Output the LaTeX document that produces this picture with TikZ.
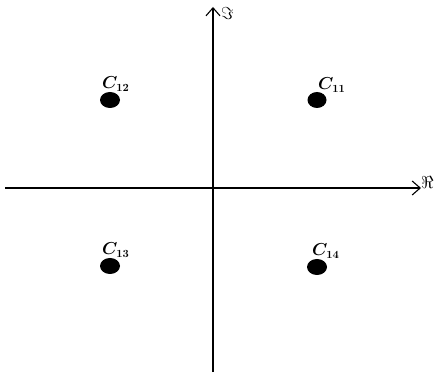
\documentclass[tikz,border=0pt]{standalone}
\usepackage{amsmath,amssymb,bm}
\usetikzlibrary{arrows.meta}
\begin{document}
\begin{tikzpicture}[x=1pt,y=-1pt,
  axis/.style={line width=1.1pt,-{Straight Barb[length=8pt,width=14pt,line width=1.1pt]}},
  lab/.style={anchor=base west,inner sep=0pt,font=\fontsize{16}{18}\selectfont},
  axlab/.style={anchor=base west,inner sep=0pt,font=\fontsize{16}{18}\selectfont}]
\useasboundingbox (0,0) rectangle (434,374);
\coordinate (xl) at (5,188);
\coordinate (xr) at (421,188);
\coordinate (yb) at (213,372);
\coordinate (yt) at (213,7);
\draw[axis] (xl) -- (xr);
\draw[axis] (yb) -- (yt);
\node[axlab] (re) at (421,189) {$\Re$};
\node[axlab] (im) at (221,20) {$\Im$};
\fill (317,100) ellipse (9.5 and 8) coordinate (c11);
\fill (110,100) ellipse (10 and 8) coordinate (c12);
\fill (110,266) ellipse (10 and 8) coordinate (c13);
\fill (317,267) ellipse (10 and 8) coordinate (c14);
\node[lab] (l11) at (318,90) {$\bm{C}_{\mathbf{11}}$};
\node[lab] (l12) at (102,89) {$\bm{C}_{\mathbf{12}}$};
\node[lab] (l13) at (102,255) {$\bm{C}_{\mathbf{13}}$};
\node[lab] (l14) at (312,256) {$\bm{C}_{\mathbf{14}}$};
\end{tikzpicture}
\end{document}
